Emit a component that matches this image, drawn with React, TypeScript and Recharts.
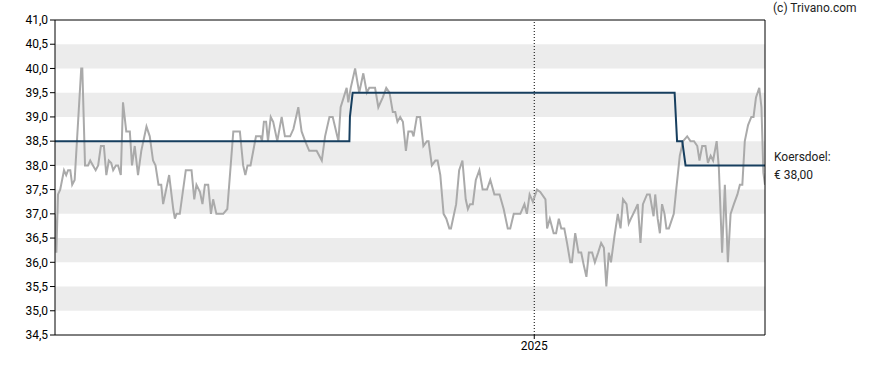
import React from 'react';
import { LineChart, Line, XAxis, YAxis, ReferenceArea, ReferenceLine, ReferenceDot } from 'recharts';

// trading-day index since start of the period
const priceDays = [
  0.0, 0.5, 1.1, 1.9, 3.3, 4.1, 4.8, 5.6, 6.3, 7.2, 9.6, 10.0, 11.0, 12.1, 12.9, 13.9, 14.9, 15.8, 16.8, 17.9,
  18.8, 19.7, 20.6, 21.3, 22.3, 23.1, 24.1, 24.9, 26.1, 27.4, 28.2, 29.2, 30.4, 31.6, 33.5, 34.7, 35.9, 36.8, 37.9, 38.9,
  39.6, 41.8, 43.3, 43.9, 44.5, 45.7, 47.9, 50.0, 51.0, 51.8, 53.1, 54.0, 54.9, 56.1, 57.1, 57.9, 59.1, 61.6, 63.1, 65.3,
  67.7, 68.9, 69.7, 70.5, 71.6, 73.6, 75.3, 75.8, 76.5, 77.3, 78.0, 79.0, 79.9, 81.4, 83.0, 84.2, 86.1, 87.3, 89.1, 90.3,
  91.6, 93.1, 95.8, 97.7, 98.9, 100.5, 101.7, 103.8, 104.6, 106.8, 107.4, 108.3, 109.9, 111.4, 112.9, 114.2, 115.1, 117.2, 118.4, 120.0,
  121.3, 122.5, 123.7, 124.6, 125.4, 126.4, 127.4, 128.5, 129.4, 130.7, 131.3, 132.5, 133.7, 134.9, 136.2, 136.8, 138.0, 139.3, 140.1, 141.1,
  142.3, 143.3, 144.4, 145.0, 146.9, 148.0, 149.2, 150.4, 151.2, 152.0, 153.0, 154.1, 155.4, 156.6, 158.2, 159.4, 160.9, 162.8, 164.3, 165.8,
  166.7, 168.0, 170.4, 171.9, 172.8, 173.8, 175.0, 176.5, 177.7, 179.6, 180.2, 181.2, 182.6, 183.5, 184.5, 185.4, 186.5, 187.5, 188.7, 189.3,
  190.5, 191.7, 192.7, 193.6, 194.6, 195.5, 196.7, 197.7, 198.9, 200.0, 201.0, 201.9, 202.8, 203.6, 204.9, 206.1, 207.1, 208.0, 209.3, 210.1,
  210.9, 212.6, 213.4, 214.4, 215.3, 216.8, 217.8, 219.2, 219.8, 220.7, 221.5, 222.3, 223.2, 223.9, 224.8, 226.6, 227.6, 228.8, 230.0, 231.5,
  232.7, 234.0, 235.2, 236.0, 237.0, 238.2, 239.1, 240.1, 241.0, 242.3, 243.1, 244.3, 245.3, 246.4, 247.4, 248.6, 249.9, 250.8, 251.7, 252.6,
  253.8, 255.0, 255.8, 256.7, 257.9, 258.7, 259.4, 260.0,
];
const priceValues = [
  37.0, 36.2, 37.4, 37.5, 37.9, 37.8, 37.9, 37.9, 37.6, 37.7, 40.0, 40.0, 38.0, 38.0, 38.1, 38.0, 37.9, 38.0, 38.4, 38.4,
  37.8, 38.1, 38.05, 37.9, 38.0, 38.0, 37.8, 39.3, 38.7, 38.7, 38.0, 38.4, 37.8, 38.3, 38.8, 38.6, 38.1, 38.0, 37.6, 37.6,
  37.2, 37.8, 37.1, 36.9, 37.0, 37.0, 37.9, 37.9, 37.3, 37.6, 37.45, 37.2, 37.6, 37.6, 37.0, 37.3, 37.0, 37.0, 37.1, 38.7,
  38.7, 38.0, 37.8, 38.0, 38.0, 38.6, 38.6, 38.5, 38.9, 38.9, 38.5, 39.0, 38.9, 38.5, 39.0, 38.6, 38.6, 38.75, 39.2, 38.7,
  38.5, 38.3, 38.3, 38.1, 38.6, 39.0, 39.0, 38.5, 39.2, 39.6, 39.3, 39.6, 40.0, 39.5, 39.9, 39.5, 39.6, 39.6, 39.2, 39.4,
  39.6, 39.5, 39.1, 39.1, 38.9, 39.0, 38.9, 38.3, 38.7, 38.7, 38.6, 39.0, 39.0, 38.4, 38.5, 38.5, 38.0, 38.1, 38.1, 37.8,
  37.0, 36.9, 36.7, 36.7, 37.2, 37.9, 38.1, 37.3, 37.1, 37.2, 37.2, 37.7, 37.9, 37.5, 37.5, 37.7, 37.4, 37.4, 37.1, 36.7,
  36.7, 37.0, 37.0, 37.2, 37.0, 37.4, 37.25, 37.5, 37.45, 37.3, 36.7, 36.9, 36.6, 36.6, 36.9, 36.7, 36.7, 36.4, 36.0, 36.0,
  36.6, 36.2, 36.2, 35.95, 35.7, 36.2, 36.2, 36.0, 36.2, 36.4, 36.3, 35.5, 36.2, 36.0, 36.55, 37.0, 36.7, 37.3, 37.2, 36.8,
  36.9, 37.1, 37.2, 36.4, 37.2, 37.4, 37.4, 36.95, 37.4, 36.9, 36.6, 37.2, 37.0, 36.7, 36.7, 37.0, 37.56, 38.2, 38.5, 38.6,
  38.5, 38.5, 38.4, 38.1, 38.4, 38.4, 38.05, 38.2, 38.1, 38.5, 37.95, 36.2, 37.6, 36.0, 37.0, 37.2, 37.4, 37.6, 37.6, 38.5,
  38.83, 39.0, 39.0, 39.4, 39.6, 39.2, 37.85, 37.6,
];

const targetDays = [0, 107.8, 108.0, 109.0, 226.9, 227.8, 229.7, 230.9, 260];
const targetValues = [38.5, 38.5, 39.0, 39.5, 39.5, 38.5, 38.5, 38.0, 38.0];

const yTicks = [34.5, 35, 35.5, 36, 36.5, 37, 37.5, 38, 38.5, 39, 39.5, 40, 40.5, 41];
const bandStarts = [35, 36, 37, 38, 39, 40];
const yearTicks = [175.5];
const yearLabels = ['2025'];
const targetLabelLines = ['Koersdoel:', '€ 38,00'];
const copyright = '(c) Trivano.com';

const X_DOMAIN: [number, number] = [0, 260];
const Y_DOMAIN: [number, number] = [34.5, 41];

const priceData = priceDays.map((d, i) => ({ d, v: priceValues[i] }));
const targetData = targetDays.map((d, i) => ({ d, v: targetValues[i] }));

const FONT = 'Roboto, "Liberation Sans", Arial, sans-serif';
const fmtY = (v: number) => v.toFixed(1).replace('.', ',');
const fmtX = (v: number) => {
  const i = yearTicks.indexOf(v);
  return i >= 0 ? yearLabels[i] : '';
};

const TargetLabel = (props: any) => {
  const { cx, cy } = props;
  return (
    <g>
      <text x={cx + 9} y={cy - 4} fontSize={12} fontFamily={FONT} fill="#222">{targetLabelLines[0]}</text>
      <text x={cx + 9} y={cy + 14} fontSize={12} fontFamily={FONT} fill="#222">{targetLabelLines[1]}</text>
    </g>
  );
};

export default function App() {
  return (
    <div style={{ position: 'absolute', left: 0, top: 0, width: 888, height: 370, background: '#fff' }}>
      <div style={{ position: 'absolute', left: 773, top: 1, fontFamily: FONT, fontSize: 12, color: '#222' }}>{copyright}</div>
      <LineChart width={888} height={370} margin={{ top: 20, right: 123, bottom: 0, left: 0 }}>
        <XAxis
          dataKey="d"
          type="number"
          domain={X_DOMAIN}
          ticks={yearTicks}
          tickFormatter={fmtX}
          height={35}
          axisLine={{ stroke: '#000' }}
          tickLine={{ stroke: '#000' }}
          tickSize={4}
          tick={{ fontSize: 12, fontFamily: FONT, fill: '#000' }}
          allowDataOverflow
        />
        <YAxis
          type="number"
          domain={Y_DOMAIN}
          ticks={yTicks}
          tickFormatter={fmtY}
          width={55}
          axisLine={{ stroke: '#000' }}
          tickLine={{ stroke: '#000' }}
          tickSize={5}
          tick={{ fontSize: 12, fontFamily: FONT, fill: '#000' }}
          interval={0}
          allowDataOverflow
        />
        {bandStarts.map((b) => (
          <ReferenceArea key={b} y1={b} y2={b + 0.5} fill="#ececec" fillOpacity={1} stroke="none" />
        ))}
        <ReferenceLine x={yearTicks[0]} stroke="#000" strokeDasharray="1 2" strokeWidth={1} />
        <Line data={priceData} dataKey="v" type="linear" stroke="#aaaaaa" strokeWidth={2} dot={false} isAnimationActive={false} />
        <Line data={targetData} dataKey="v" type="linear" stroke="#173f5f" strokeWidth={2} dot={false} isAnimationActive={false} />
        <ReferenceLine y={Y_DOMAIN[1]} stroke="#000" strokeWidth={1} ifOverflow="visible" />
        <ReferenceLine x={X_DOMAIN[1]} stroke="#000" strokeWidth={1} ifOverflow="visible" />
        <ReferenceDot x={X_DOMAIN[1]} y={38} r={0} ifOverflow="visible" shape={TargetLabel} />
      </LineChart>
    </div>
  );
}
